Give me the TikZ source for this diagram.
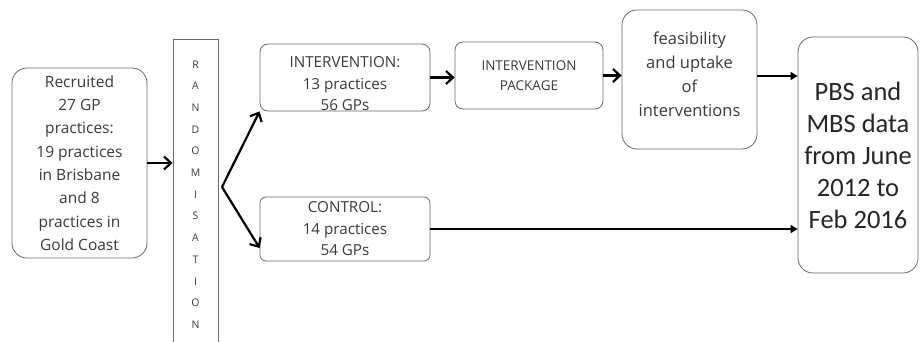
\documentclass[tikz,border=0pt]{standalone}
\usepackage{fontspec}
\setmainfont{Open Sans}
\newfontfamily\pbsfont{Carlito}
\usetikzlibrary{arrows.meta,calc}
\definecolor{boxline}{HTML}{6A6A6A}
\definecolor{txt}{HTML}{3A3A3A}
\begin{document}
\begin{tikzpicture}[x=1pt,y=-1pt,
  box/.style={draw=boxline,line width=0.8pt,fill=white,align=center,text=txt,inner sep=0pt},
  flow/.style={line width=2.2pt,-{Straight Barb[length=7pt,width=13pt,line width=2.2pt]}},
  flowtri/.style={line width=2.2pt,-{Triangle[length=7pt,width=8pt]}}]
\useasboundingbox (0,0) rectangle (920,342);
\clip (0,0) rectangle (920,342);
\fill[white] (0,0) rectangle (920,342);
\node[box,rounded corners=15pt,minimum width=135pt,minimum height=190pt,
  font=\fontsize{15.5}{23.3}\selectfont] (rec) at (79.5,163)
  {Recruited\\27 GP\\practices:\\19 practices\\in Brisbane\\and 8\\practices in\\Gold Coast};
\node[box,minimum width=45pt,minimum height=311pt,
  font=\fontsize{10.5}{21.7}\selectfont] (rand) at (195.5,194.5)
  {R\\A\\N\\D\\O\\M\\I\\S\\A\\T\\I\\O\\N};
\node[box,rounded corners=8pt,minimum width=170pt,minimum height=67pt,
  font=\fontsize{15.2}{21.5}\selectfont] (int) at (345,77.5)
  {\rule{0pt}{23.5pt}INTERVENTION:\\13 practices\\56 GPs};
\node[box,rounded corners=8pt,minimum width=148pt,minimum height=67pt,
  font=\fontsize{13.5}{20}\selectfont] (pkg) at (529,75.5)
  {INTERVENTION\\PACKAGE};
\node[box,rounded corners=15pt,minimum width=135pt,minimum height=139pt,
  font=\fontsize{16.5}{24}\selectfont] (feas) at (689.5,79.5)
  {feasibility\\and uptake\\of\\interventions\rule[-10pt]{0pt}{1pt}};
\node[box,rounded corners=15pt,minimum width=120pt,minimum height=236pt,text=black!85,
  font=\pbsfont\fontsize{26.5}{32}\selectfont] (pbs) at (858,155)
  {PBS and\\MBS data\\from June\\2012 to\\Feb 2016};
\node[box,rounded corners=6pt,minimum width=170pt,minimum height=64pt,
  font=\fontsize{15.2}{21.5}\selectfont] (ctrl) at (345,229)
  {CONTROL:\\14 practices\\54 GPs};
\coordinate (split) at (222,187);
\coordinate (ctip) at (0,248);
\coordinate (fy) at (0,76);
\draw[flow] (rec.east) -- (rand.west |- rec.east);
\draw[flow] (split) -- (int.south west);
\draw[flow] (split) -- (ctrl.west |- ctip);
\draw[flow] (int.east) -- (pkg.west |- int.east);
\draw[flow] (pkg.east) -- (feas.west |- pkg.east);
\draw[flowtri] (feas.east |- fy) -- (pbs.west |- fy);
\draw[flowtri] (ctrl.east) -- (pbs.west |- ctrl.east);
\end{tikzpicture}
\end{document}
